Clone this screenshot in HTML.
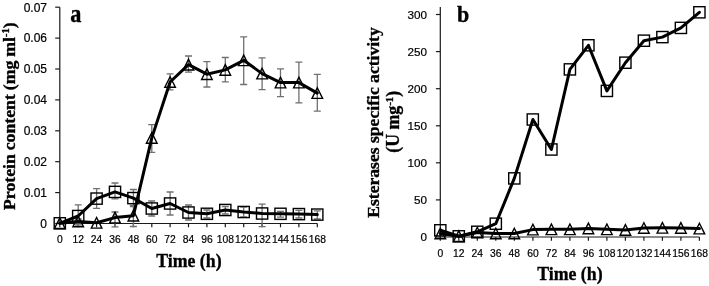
<!DOCTYPE html>
<html><head><meta charset="utf-8"><title>Chart</title>
<style>
html,body{margin:0;padding:0;background:#fff;}
body{width:709px;height:286px;overflow:hidden;font-family:"Liberation Sans",sans-serif;}
svg{display:block;filter:grayscale(1);}
.ax{stroke:#1a1a1a;stroke-width:1.2;fill:none;}
.ln{stroke:#000;stroke-width:3;fill:none;stroke-linejoin:round;stroke-linecap:round;}
.mk{stroke:#000;stroke-width:1.4;fill:none;}
.eb{stroke:#707070;stroke-width:1.3;fill:none;}
.tl{font-family:"Liberation Sans",sans-serif;fill:#000;stroke:#000;stroke-width:0.2;}
.tt{font-family:"Liberation Serif",serif;font-weight:bold;fill:#000;stroke:#000;stroke-width:0.35;}
</style></head><body>
<svg width="709" height="286" viewBox="0 0 709 286">
<rect width="709" height="286" fill="#fff"/>

<g class="ax">
<path d="M59.8,7.3 V224.1"/>
<path d="M59.2,223.5 H317.3"/>
<path d="M55.2,223.5 H59.8"/>
<path d="M55.2,192.6 H59.8"/>
<path d="M55.2,161.7 H59.8"/>
<path d="M55.2,130.8 H59.8"/>
<path d="M55.2,99.9 H59.8"/>
<path d="M55.2,69.0 H59.8"/>
<path d="M55.2,38.1 H59.8"/>
<path d="M55.2,7.2 H59.8"/>
<path d="M59.8,223.5 V227.3"/>
<path d="M78.2,223.5 V227.3"/>
<path d="M96.6,223.5 V227.3"/>
<path d="M115.0,223.5 V227.3"/>
<path d="M133.4,223.5 V227.3"/>
<path d="M151.8,223.5 V227.3"/>
<path d="M170.1,223.5 V227.3"/>
<path d="M188.5,223.5 V227.3"/>
<path d="M206.9,223.5 V227.3"/>
<path d="M225.3,223.5 V227.3"/>
<path d="M243.7,223.5 V227.3"/>
<path d="M262.1,223.5 V227.3"/>
<path d="M280.5,223.5 V227.3"/>
<path d="M298.9,223.5 V227.3"/>
<path d="M317.3,223.5 V227.3"/>
</g>
<text class="tl" x="47" y="227.8" font-size="12" text-anchor="end">0</text>
<text class="tl" x="47" y="196.9" font-size="12" text-anchor="end">0.01</text>
<text class="tl" x="47" y="166.0" font-size="12" text-anchor="end">0.02</text>
<text class="tl" x="47" y="135.1" font-size="12" text-anchor="end">0.03</text>
<text class="tl" x="47" y="104.2" font-size="12" text-anchor="end">0.04</text>
<text class="tl" x="47" y="73.3" font-size="12" text-anchor="end">0.05</text>
<text class="tl" x="47" y="42.4" font-size="12" text-anchor="end">0.06</text>
<text class="tl" x="47" y="11.5" font-size="12" text-anchor="end">0.07</text>
<text class="tl" x="59.8" y="243.2" font-size="10.3" text-anchor="middle">0</text>
<text class="tl" x="78.2" y="243.2" font-size="10.3" text-anchor="middle">12</text>
<text class="tl" x="96.6" y="243.2" font-size="10.3" text-anchor="middle">24</text>
<text class="tl" x="115.0" y="243.2" font-size="10.3" text-anchor="middle">36</text>
<text class="tl" x="133.4" y="243.2" font-size="10.3" text-anchor="middle">48</text>
<text class="tl" x="151.8" y="243.2" font-size="10.3" text-anchor="middle">60</text>
<text class="tl" x="170.1" y="243.2" font-size="10.3" text-anchor="middle">72</text>
<text class="tl" x="188.5" y="243.2" font-size="10.3" text-anchor="middle">84</text>
<text class="tl" x="206.9" y="243.2" font-size="10.3" text-anchor="middle">96</text>
<text class="tl" x="225.3" y="243.2" font-size="10.3" text-anchor="middle">108</text>
<text class="tl" x="243.7" y="243.2" font-size="10.3" text-anchor="middle">120</text>
<text class="tl" x="262.1" y="243.2" font-size="10.3" text-anchor="middle">132</text>
<text class="tl" x="280.5" y="243.2" font-size="10.3" text-anchor="middle">144</text>
<text class="tl" x="298.9" y="243.2" font-size="10.3" text-anchor="middle">156</text>
<text class="tl" x="317.3" y="243.2" font-size="10.3" text-anchor="middle">168</text>
<g class="eb">
<path d="M78.2,204.8 V226.0 M74.7,204.8 H81.7 M74.7,226.0 H81.7"/>
<path d="M96.6,188.6 V208.3 M93.1,188.6 H100.1 M93.1,208.3 H100.1"/>
<path d="M115.0,183.0 V198.9 M111.5,183.0 H118.5 M111.5,198.9 H118.5"/>
<path d="M133.4,189.5 V206.5 M129.9,189.5 H136.9 M129.9,206.5 H136.9"/>
<path d="M151.8,201.0 V216.0 M148.2,201.0 H155.2 M148.2,216.0 H155.2"/>
<path d="M170.1,192.0 V215.0 M166.6,192.0 H173.6 M166.6,215.0 H173.6"/>
<path d="M188.5,205.0 V220.0 M185.0,205.0 H192.0 M185.0,220.0 H192.0"/>
<path d="M206.9,210.0 V218.0 M203.4,210.0 H210.4 M203.4,218.0 H210.4"/>
<path d="M225.3,206.5 V214.0 M221.8,206.5 H228.8 M221.8,214.0 H228.8"/>
<path d="M243.7,207.0 V217.0 M240.2,207.0 H247.2 M240.2,217.0 H247.2"/>
<path d="M262.1,204.2 V226.7 M258.6,204.2 H265.6 M258.6,226.7 H265.6"/>
<path d="M280.5,211.3 V217.1 M277.0,211.3 H284.0 M277.0,217.1 H284.0"/>
<path d="M298.9,210.4 V218.0 M295.4,210.4 H302.4 M295.4,218.0 H302.4"/>
<path d="M317.3,210.8 V219.0 M313.8,210.8 H320.8 M313.8,219.0 H320.8"/>
<path d="M78.2,219.0 V224.0 M74.7,219.0 H81.7 M74.7,224.0 H81.7"/>
<path d="M115.0,212.0 V226.9 M111.5,212.0 H118.5 M111.5,226.9 H118.5"/>
<path d="M133.4,205.5 V226.5 M129.9,205.5 H136.9 M129.9,226.5 H136.9"/>
<path d="M151.8,124.6 V152.3 M148.2,124.6 H155.2 M148.2,152.3 H155.2"/>
<path d="M170.1,73.9 V89.8 M166.6,73.9 H173.6 M166.6,89.8 H173.6"/>
<path d="M188.5,56.0 V72.2 M185.0,56.0 H192.0 M185.0,72.2 H192.0"/>
<path d="M206.9,61.7 V87.0 M203.4,61.7 H210.4 M203.4,87.0 H210.4"/>
<path d="M225.3,57.5 V81.8 M221.8,57.5 H228.8 M221.8,81.8 H228.8"/>
<path d="M243.7,36.8 V84.5 M240.2,36.8 H247.2 M240.2,84.5 H247.2"/>
<path d="M262.1,57.9 V89.6 M258.6,57.9 H265.6 M258.6,89.6 H265.6"/>
<path d="M280.5,68.9 V96.7 M277.0,68.9 H284.0 M277.0,96.7 H284.0"/>
<path d="M298.9,62.2 V102.9 M295.4,62.2 H302.4 M295.4,102.9 H302.4"/>
<path d="M317.3,74.4 V111.1 M313.8,74.4 H320.8 M313.8,111.1 H320.8"/>
</g>
<polyline class="ln" points="59.8,223.3 78.2,216.0 96.6,198.6 115.0,191.9 133.4,198.1 151.8,208.5 170.1,203.5 188.5,212.5 206.9,213.8 225.3,210.0 243.7,212.0 262.1,213.5 280.5,213.8 298.9,214.1 317.3,214.6"/>
<polyline class="ln" points="59.8,223.2 78.2,221.4 96.6,222.8 115.0,217.6 133.4,215.7 151.8,137.9 170.1,82.0 188.5,64.7 206.9,74.2 225.3,69.9 243.7,60.3 262.1,73.6 280.5,82.6 298.9,82.6 317.3,93.1"/>
<g class="mk">
<rect x="54.2" y="217.7" width="11.2" height="11.2"/>
<rect x="72.6" y="210.4" width="11.2" height="11.2"/>
<rect x="91.0" y="193.0" width="11.2" height="11.2"/>
<rect x="109.4" y="186.3" width="11.2" height="11.2"/>
<rect x="127.8" y="192.5" width="11.2" height="11.2"/>
<rect x="146.2" y="202.9" width="11.2" height="11.2"/>
<rect x="164.5" y="197.9" width="11.2" height="11.2"/>
<rect x="182.9" y="206.9" width="11.2" height="11.2"/>
<rect x="201.3" y="208.2" width="11.2" height="11.2"/>
<rect x="219.7" y="204.4" width="11.2" height="11.2"/>
<rect x="238.1" y="206.4" width="11.2" height="11.2"/>
<rect x="256.5" y="207.9" width="11.2" height="11.2"/>
<rect x="274.9" y="208.2" width="11.2" height="11.2"/>
<rect x="293.3" y="208.5" width="11.2" height="11.2"/>
<rect x="311.7" y="209.0" width="11.2" height="11.2"/>
<path d="M59.8,217.9 L65.1,228.5 L54.5,228.5 Z"/>
<path d="M78.2,216.1 L83.5,226.7 L72.9,226.7 Z"/>
<path d="M96.6,217.5 L101.9,228.1 L91.3,228.1 Z"/>
<path d="M115.0,212.3 L120.3,222.9 L109.7,222.9 Z"/>
<path d="M133.4,210.4 L138.7,221.0 L128.1,221.0 Z"/>
<path d="M151.8,132.6 L157.1,143.2 L146.4,143.2 Z"/>
<path d="M170.1,76.7 L175.4,87.3 L164.8,87.3 Z"/>
<path d="M188.5,59.4 L193.8,70.0 L183.2,70.0 Z"/>
<path d="M206.9,68.9 L212.2,79.5 L201.6,79.5 Z"/>
<path d="M225.3,64.6 L230.6,75.2 L220.0,75.2 Z"/>
<path d="M243.7,55.0 L249.0,65.6 L238.4,65.6 Z"/>
<path d="M262.1,68.3 L267.4,78.9 L256.8,78.9 Z"/>
<path d="M280.5,77.3 L285.8,87.9 L275.2,87.9 Z"/>
<path d="M298.9,77.3 L304.2,87.9 L293.6,87.9 Z"/>
<path d="M317.3,87.8 L322.6,98.4 L312.0,98.4 Z"/>
</g>
<text class="tt" font-size="22.3" transform="translate(70.3,22.1) scale(1,1.1)">a</text>
<text class="tt" x="188.9" y="266.8" font-size="17.8" text-anchor="middle">Time (h)</text>
<text class="tt" font-size="17.75" word-spacing="-0.6" transform="translate(14.7,210) rotate(-90)">Protein content (mg ml<tspan font-size="10.8" dy="-5.6">-1</tspan><tspan dy="5.6">)</tspan></text>
<g class="ax">
<path d="M440.3,7.1 V237.6"/>
<path d="M439.7,237.0 H699.4"/>
<path d="M435.9,237.0 H440.3"/>
<path d="M435.9,199.9 H440.3"/>
<path d="M435.9,162.8 H440.3"/>
<path d="M435.9,125.8 H440.3"/>
<path d="M435.9,88.7 H440.3"/>
<path d="M435.9,51.6 H440.3"/>
<path d="M435.9,14.5 H440.3"/>
<path d="M440.3,237.0 V240.8"/>
<path d="M458.8,237.0 V240.8"/>
<path d="M477.3,237.0 V240.8"/>
<path d="M495.8,237.0 V240.8"/>
<path d="M514.3,237.0 V240.8"/>
<path d="M532.9,237.0 V240.8"/>
<path d="M551.4,237.0 V240.8"/>
<path d="M569.9,237.0 V240.8"/>
<path d="M588.4,237.0 V240.8"/>
<path d="M606.9,237.0 V240.8"/>
<path d="M625.4,237.0 V240.8"/>
<path d="M643.9,237.0 V240.8"/>
<path d="M662.4,237.0 V240.8"/>
<path d="M680.9,237.0 V240.8"/>
<path d="M699.4,237.0 V240.8"/>
</g>
<text class="tl" x="427" y="241.1" font-size="11.7" text-anchor="end">0</text>
<text class="tl" x="427" y="204.0" font-size="11.7" text-anchor="end">50</text>
<text class="tl" x="427" y="166.9" font-size="11.7" text-anchor="end">100</text>
<text class="tl" x="427" y="129.9" font-size="11.7" text-anchor="end">150</text>
<text class="tl" x="427" y="92.8" font-size="11.7" text-anchor="end">200</text>
<text class="tl" x="427" y="55.7" font-size="11.7" text-anchor="end">250</text>
<text class="tl" x="427" y="18.6" font-size="11.7" text-anchor="end">300</text>
<text class="tl" x="440.3" y="256.6" font-size="10.3" text-anchor="middle">0</text>
<text class="tl" x="458.8" y="256.6" font-size="10.3" text-anchor="middle">12</text>
<text class="tl" x="477.3" y="256.6" font-size="10.3" text-anchor="middle">24</text>
<text class="tl" x="495.8" y="256.6" font-size="10.3" text-anchor="middle">36</text>
<text class="tl" x="514.3" y="256.6" font-size="10.3" text-anchor="middle">48</text>
<text class="tl" x="532.9" y="256.6" font-size="10.3" text-anchor="middle">60</text>
<text class="tl" x="551.4" y="256.6" font-size="10.3" text-anchor="middle">72</text>
<text class="tl" x="569.9" y="256.6" font-size="10.3" text-anchor="middle">84</text>
<text class="tl" x="588.4" y="256.6" font-size="10.3" text-anchor="middle">96</text>
<text class="tl" x="606.9" y="256.6" font-size="10.3" text-anchor="middle">108</text>
<text class="tl" x="625.4" y="256.6" font-size="10.3" text-anchor="middle">120</text>
<text class="tl" x="643.9" y="256.6" font-size="10.3" text-anchor="middle">132</text>
<text class="tl" x="662.4" y="256.6" font-size="10.3" text-anchor="middle">144</text>
<text class="tl" x="680.9" y="256.6" font-size="10.3" text-anchor="middle">156</text>
<text class="tl" x="699.4" y="256.6" font-size="10.3" text-anchor="middle">168</text>
<polyline class="ln" points="440.3,233.5 458.8,236.2 477.3,232.5 495.8,233.5 514.3,233.5 532.9,229.6 551.4,229.3 569.9,229.3 588.4,228.4 606.9,229.3 625.4,229.9 643.9,228.0 662.4,227.8 680.9,227.9 699.4,228.6"/>
<polyline class="ln" points="440.3,230.3 458.8,236.3 477.3,231.8 495.8,223.7 514.3,178.4 532.9,119.5 551.4,149.5 569.9,69.4 588.4,45.3 606.9,90.9 625.4,62.7 643.9,40.7 662.4,37.1 680.9,27.9 699.4,12.3"/>
<g class="mk">
<rect x="434.7" y="224.7" width="11.2" height="11.2"/>
<rect x="453.2" y="230.7" width="11.2" height="11.2"/>
<rect x="471.7" y="226.2" width="11.2" height="11.2"/>
<rect x="490.2" y="218.1" width="11.2" height="11.2"/>
<rect x="508.7" y="172.8" width="11.2" height="11.2"/>
<rect x="527.2" y="113.9" width="11.2" height="11.2"/>
<rect x="545.8" y="143.9" width="11.2" height="11.2"/>
<rect x="564.3" y="63.8" width="11.2" height="11.2"/>
<rect x="582.8" y="39.7" width="11.2" height="11.2"/>
<rect x="601.3" y="85.3" width="11.2" height="11.2"/>
<rect x="619.8" y="57.1" width="11.2" height="11.2"/>
<rect x="638.3" y="35.1" width="11.2" height="11.2"/>
<rect x="656.8" y="31.5" width="11.2" height="11.2"/>
<rect x="675.3" y="22.3" width="11.2" height="11.2"/>
<rect x="693.8" y="6.7" width="11.2" height="11.2"/>
<path d="M440.3,228.2 L445.6,238.8 L435.0,238.8 Z"/>
<path d="M458.8,230.9 L464.1,241.5 L453.5,241.5 Z"/>
<path d="M477.3,227.2 L482.6,237.8 L472.0,237.8 Z"/>
<path d="M495.8,228.2 L501.1,238.8 L490.5,238.8 Z"/>
<path d="M514.3,228.2 L519.6,238.8 L509.0,238.8 Z"/>
<path d="M532.9,224.3 L538.1,234.9 L527.6,234.9 Z"/>
<path d="M551.4,224.0 L556.7,234.6 L546.1,234.6 Z"/>
<path d="M569.9,224.0 L575.2,234.6 L564.6,234.6 Z"/>
<path d="M588.4,223.1 L593.7,233.7 L583.1,233.7 Z"/>
<path d="M606.9,224.0 L612.2,234.6 L601.6,234.6 Z"/>
<path d="M625.4,224.6 L630.7,235.2 L620.1,235.2 Z"/>
<path d="M643.9,222.7 L649.2,233.3 L638.6,233.3 Z"/>
<path d="M662.4,222.5 L667.7,233.1 L657.1,233.1 Z"/>
<path d="M680.9,222.6 L686.2,233.2 L675.6,233.2 Z"/>
<path d="M699.4,223.3 L704.7,233.9 L694.1,233.9 Z"/>
</g>
<text class="tt" font-size="22" transform="translate(457,22.3) scale(1,1.08)">b</text>
<text class="tt" x="569.9" y="280.1" font-size="17.8" text-anchor="middle">Time (h)</text>
<text class="tt" font-size="17.6" text-anchor="middle" transform="translate(378.5,122.5) rotate(-90)">Esterases specific activity</text>
<text class="tt" font-size="17.8" text-anchor="middle" transform="translate(398.9,121.8) rotate(-90)">(U mg<tspan font-size="10.8" dy="-5.6">-1</tspan><tspan dy="5.6">)</tspan></text>
</svg></body></html>
